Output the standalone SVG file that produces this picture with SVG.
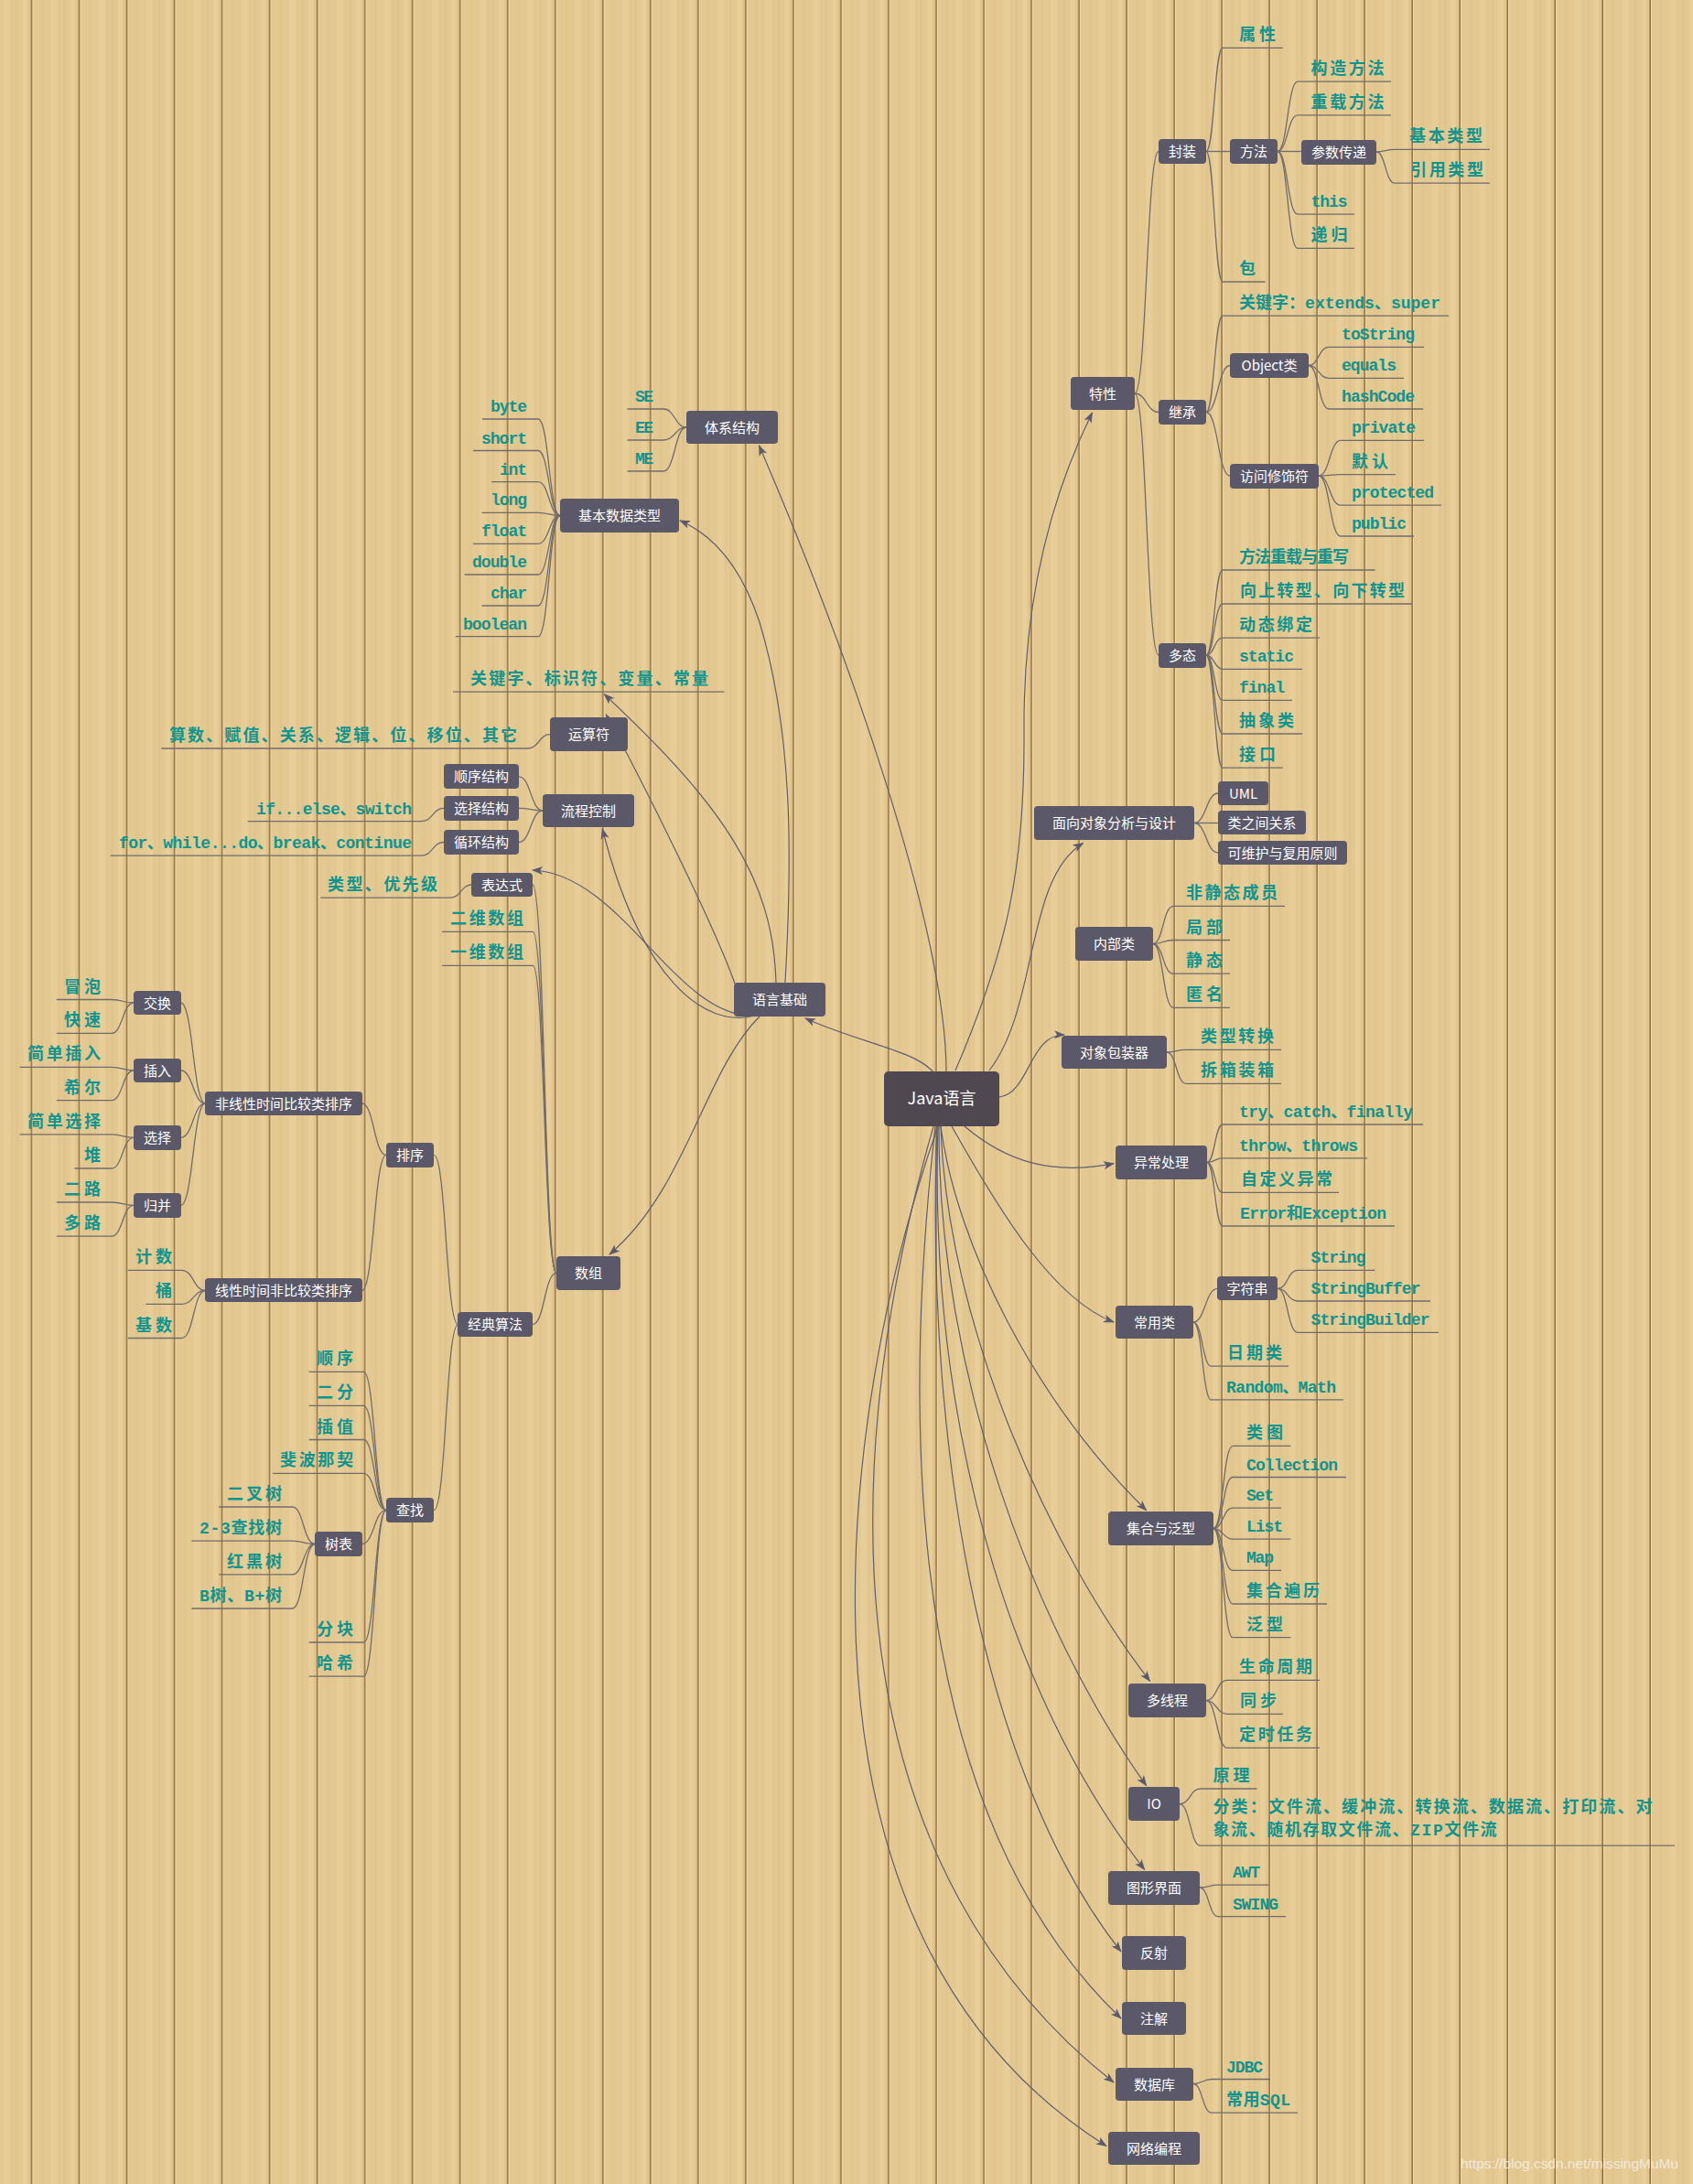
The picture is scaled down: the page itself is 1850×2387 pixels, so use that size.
<svg xmlns="http://www.w3.org/2000/svg" width="1850" height="2387" viewBox="0 0 1850 2387">
<defs>
<pattern id="wood" patternUnits="userSpaceOnUse" width="52.02" height="100">
<rect width="52.02" height="100" fill="#e4c891"/>
<rect x="4" width="7" height="100" fill="#e9d09c" opacity="0.6"/>
<rect x="12.5" width="1" height="100" fill="#d8bb83" opacity="0.5"/>
<rect x="17" width="3" height="100" fill="#dbbf88" opacity="0.6"/>
<rect x="25" width="5" height="100" fill="#ecd4a2" opacity="0.5"/>
<rect x="31" width="1" height="100" fill="#d6b980" opacity="0.5"/>
<rect x="33.8" width="1.6" height="100" fill="#8f6f3d"/>
<rect x="35.4" width="1" height="100" fill="#f2dcaa"/>
<rect x="44" width="4" height="100" fill="#dec38b" opacity="0.6"/>
</pattern>
<marker id="arr" markerUnits="userSpaceOnUse" markerWidth="12" markerHeight="10" viewBox="0 0 12 10" refX="11" refY="5" orient="auto">
<path d="M0,0.5 L12,5 L0,9.5 L3,5 Z" fill="#5b5a6c"/>
</marker>
<style>
.br{fill:none;stroke:#716c6c;stroke-width:1.3}
.rl{fill:none;stroke:#5f5e70;stroke-width:1.2;marker-end:url(#arr)}
.n rect{fill:#5a5869}
.n text{font-family:"Noto Sans CJK SC","Liberation Sans",sans-serif;font-size:15px;fill:#ffffff;text-anchor:middle}
.root rect{fill:#4f4850}
.root text{font-size:18px}
.lf{font-family:"Liberation Mono","Noto Sans CJK SC",monospace;font-size:18px;font-weight:bold;fill:#0f958f}
.le{text-anchor:end}
</style>
</defs>
<rect width="1850" height="2387" fill="url(#wood)"/>

<g id="connectors">
<g id="branches">
<path class="br" d="M1240,430 C1253,430 1253,165.5 1266,165.5"/>
<path class="br" d="M1240,430 C1253,430 1253,450.5 1266,450.5"/>
<path class="br" d="M1240,430 C1253,430 1253,716 1266,716"/>
<path class="br" d="M1318,165.5 C1327,165.5 1327,52.4 1336,52.4 H1402"/>
<path class="br" d="M1318,165.5 H1344"/>
<path class="br" d="M1318,165.5 C1327,165.5 1327,308 1336,308 H1382.5"/>
<path class="br" d="M1396,165.5 C1407,165.5 1407,89.2 1418,89.2 H1520"/>
<path class="br" d="M1396,165.5 C1407,165.5 1407,125.9 1418,125.9 H1520"/>
<path class="br" d="M1396,165.5 H1422"/>
<path class="br" d="M1396,165.5 C1407,165.5 1407,234.2 1418,234.2 H1480"/>
<path class="br" d="M1396,165.5 C1407,165.5 1407,271.3 1418,271.3 H1480"/>
<path class="br" d="M1504,166 C1514,166 1514,163.4 1524,163.4 H1628"/>
<path class="br" d="M1504,166 C1514,166 1514,200.2 1524,200.2 H1628"/>
<path class="br" d="M1318,450.5 C1327,450.5 1327,345.2 1336,345.2 H1583"/>
<path class="br" d="M1318,450.5 C1331,450.5 1331,399.5 1344,399.5"/>
<path class="br" d="M1318,450.5 C1331,450.5 1331,520 1344,520"/>
<path class="br" d="M1430,399.5 C1441,399.5 1441,379.3 1452,379.3 H1556"/>
<path class="br" d="M1430,399.5 C1441,399.5 1441,413.3 1452,413.3 H1534"/>
<path class="br" d="M1430,399.5 C1441,399.5 1441,447 1452,447 H1555"/>
<path class="br" d="M1441,520 C1453,520 1453,481.4 1465,481.4 H1556"/>
<path class="br" d="M1441,520 C1453,520 1453,518.6 1465,518.6 H1525"/>
<path class="br" d="M1441,520 C1453,520 1453,552.2 1465,552.2 H1575"/>
<path class="br" d="M1441,520 C1453,520 1453,586 1465,586 H1545"/>
<path class="br" d="M1318,716 C1327,716 1327,623 1336,623 H1502.5"/>
<path class="br" d="M1318,716 C1327,716 1327,660 1336,660 H1543"/>
<path class="br" d="M1318,716 C1327,716 1327,697.2 1336,697.2 H1442"/>
<path class="br" d="M1318,716 C1327,716 1327,731.3 1336,731.3 H1423"/>
<path class="br" d="M1318,716 C1327,716 1327,765.3 1336,765.3 H1412"/>
<path class="br" d="M1318,716 C1327,716 1327,802 1336,802 H1423"/>
<path class="br" d="M1318,716 C1327,716 1327,839.2 1336,839.2 H1402"/>
<path class="br" d="M1305,899.5 C1318,899.5 1318,867 1331,867"/>
<path class="br" d="M1305,899.5 H1331"/>
<path class="br" d="M1305,899.5 C1318,899.5 1318,932 1331,932"/>
<path class="br" d="M1260,1031.5 C1271,1031.5 1271,990.4 1282,990.4 H1404"/>
<path class="br" d="M1260,1031.5 C1271,1031.5 1271,1027.5 1282,1027.5 H1344"/>
<path class="br" d="M1260,1031.5 C1271,1031.5 1271,1064.2 1282,1064.2 H1344"/>
<path class="br" d="M1260,1031.5 C1271,1031.5 1271,1101.3 1282,1101.3 H1344"/>
<path class="br" d="M1275,1150 C1285.5,1150 1285.5,1147.3 1296,1147.3 H1400"/>
<path class="br" d="M1275,1150 C1285.5,1150 1285.5,1184.4 1296,1184.4 H1400"/>
<path class="br" d="M1319,1270.5 C1327.5,1270.5 1327.5,1229 1336,1229 H1555"/>
<path class="br" d="M1319,1270.5 C1327.5,1270.5 1327.5,1265.8 1336,1265.8 H1494"/>
<path class="br" d="M1319,1270.5 C1327.5,1270.5 1327.5,1303.3 1336,1303.3 H1463"/>
<path class="br" d="M1319,1270.5 C1327.5,1270.5 1327.5,1340 1336,1340 H1524"/>
<path class="br" d="M1304,1445 C1317,1445 1317,1408.4 1330.6,1408.4"/>
<path class="br" d="M1304,1445 C1314,1445 1314,1493.2 1323.5,1493.2 H1408"/>
<path class="br" d="M1304,1445 C1314,1445 1314,1529.9 1323.5,1529.9 H1468"/>
<path class="br" d="M1396.3,1408.4 C1407,1408.4 1407,1388.3 1418,1388.3 H1502.5"/>
<path class="br" d="M1396.3,1408.4 C1407,1408.4 1407,1422 1418,1422 H1563"/>
<path class="br" d="M1396.3,1408.4 C1407,1408.4 1407,1456.4 1418,1456.4 H1572"/>
<path class="br" d="M1326,1670.5 C1336.5,1670.5 1336.5,1580.4 1347,1580.4 H1410.5"/>
<path class="br" d="M1326,1670.5 C1336.5,1670.5 1336.5,1614.5 1347,1614.5 H1471"/>
<path class="br" d="M1326,1670.5 C1336.5,1670.5 1336.5,1648.1 1347,1648.1 H1400"/>
<path class="br" d="M1326,1670.5 C1336.5,1670.5 1336.5,1682.2 1347,1682.2 H1410.5"/>
<path class="br" d="M1326,1670.5 C1336.5,1670.5 1336.5,1716.3 1347,1716.3 H1400"/>
<path class="br" d="M1326,1670.5 C1336.5,1670.5 1336.5,1753 1347,1753 H1450"/>
<path class="br" d="M1326,1670.5 C1336.5,1670.5 1336.5,1789.7 1347,1789.7 H1410.5"/>
<path class="br" d="M1318,1858.6 C1329.5,1858.6 1329.5,1836.3 1341,1836.3 H1442"/>
<path class="br" d="M1318,1858.6 C1329.5,1858.6 1329.5,1873.4 1341,1873.4 H1402"/>
<path class="br" d="M1318,1858.6 C1329.5,1858.6 1329.5,1910.4 1341,1910.4 H1442"/>
<path class="br" d="M1289,1971.7 C1300.5,1971.7 1300.5,1955 1311.7,1955 H1373.5"/>
<path class="br" d="M1289,1971.7 C1300.5,1971.7 1300.5,2017.2 1311.7,2017.2 H1830"/>
<path class="br" d="M1311,2063 C1321,2063 1321,2060.2 1331,2060.2 H1386"/>
<path class="br" d="M1311,2063 C1321,2063 1321,2094.7 1331,2094.7 H1405"/>
<path class="br" d="M1304,2277.5 C1314,2277.5 1314,2272.5 1324,2272.5 H1388"/>
<path class="br" d="M1304,2277.5 C1314,2277.5 1314,2309.2 1324,2309.2 H1418"/>
<path class="br" d="M750,467 C737.5,467 737.5,447 725,447 H685.5"/>
<path class="br" d="M750,467 C737.5,467 737.5,481 725,481 H685.5"/>
<path class="br" d="M750,467 C737.5,467 737.5,515 725,515 H685.5"/>
<path class="br" d="M612,563.5 C600,563.5 600,458 588,458 H527"/>
<path class="br" d="M612,563.5 C600,563.5 600,492.5 588,492.5 H517"/>
<path class="br" d="M612,563.5 C600,563.5 600,526.6 588,526.6 H537"/>
<path class="br" d="M612,563.5 C600,563.5 600,560.3 588,560.3 H526.5"/>
<path class="br" d="M612,563.5 C600,563.5 600,594.3 588,594.3 H517"/>
<path class="br" d="M612,563.5 C600,563.5 600,628 588,628 H507.6"/>
<path class="br" d="M612,563.5 C600,563.5 600,662 588,662 H526.5"/>
<path class="br" d="M612,563.5 C600,563.5 600,695.7 588,695.7 H497.8"/>
<path class="br" d="M495,756.1 H791.3"/>
<path class="br" d="M601,802.7 C589,802.7 589,818 576.5,818 H176.3"/>
<path class="br" d="M593,886 C580,886 580,848.8 567,848.8"/>
<path class="br" d="M593,886 C580,886 580,883.4 567,883.4"/>
<path class="br" d="M593,886 C580,886 580,920.5 567,920.5"/>
<path class="br" d="M485,883.4 C472.7,883.4 472.7,897.7 460.4,897.7 H270.7"/>
<path class="br" d="M485,920.5 C472.7,920.5 472.7,935.2 460.4,935.2 H120.8"/>
<path class="br" d="M515.5,967 C503.7,967 503.7,981.2 491.9,981.2 H350.2"/>
<path class="br" d="M608,1391.4 C595,1391.4 595,967 582,967"/>
<path class="br" d="M608,1391.4 C595,1391.4 595,1018.3 582.4,1018.3 H483.2"/>
<path class="br" d="M608,1391.4 C595,1391.4 595,1055.4 582.4,1055.4 H483.2"/>
<path class="br" d="M608,1391.4 C595,1391.4 595,1447.6 582,1447.6"/>
<path class="br" d="M500.5,1447.6 C487.4,1447.6 487.4,1262.4 474.2,1262.4"/>
<path class="br" d="M500.5,1447.6 C487.4,1447.6 487.4,1650.6 474.2,1650.6"/>
<path class="br" d="M422,1262.4 C408.7,1262.4 408.7,1206 395.5,1206"/>
<path class="br" d="M422,1262.4 C408.7,1262.4 408.7,1410.5 395.5,1410.5"/>
<path class="br" d="M224.3,1206 C211,1206 211,1096 197.5,1096"/>
<path class="br" d="M224.3,1206 C211,1206 211,1170 197.5,1170"/>
<path class="br" d="M224.3,1206 C211,1206 211,1243.3 197.5,1243.3"/>
<path class="br" d="M224.3,1206 C211,1206 211,1317.3 197.5,1317.3"/>
<path class="br" d="M146,1096 C134,1096 134,1092.5 122,1092.5 H61.8"/>
<path class="br" d="M146,1096 C134,1096 134,1129.3 122,1129.3 H61.8"/>
<path class="br" d="M146,1170 C134,1170 134,1166.4 122,1166.4 H21.6"/>
<path class="br" d="M146,1170 C134,1170 134,1202.7 122,1202.7 H61.8"/>
<path class="br" d="M146,1243.3 C134,1243.3 134,1239.8 122,1239.8 H21.6"/>
<path class="br" d="M146,1243.3 C134,1243.3 134,1277 122,1277 H81.5"/>
<path class="br" d="M146,1317.3 C134,1317.3 134,1314 122,1314 H61.8"/>
<path class="br" d="M146,1317.3 C134,1317.3 134,1351.2 122,1351.2 H61.8"/>
<path class="br" d="M224.3,1410.5 C211.5,1410.5 211.5,1388.3 198.7,1388.3 H139.7"/>
<path class="br" d="M224.3,1410.5 C211.5,1410.5 211.5,1425.4 198.7,1425.4 H159.4"/>
<path class="br" d="M224.3,1410.5 C211.5,1410.5 211.5,1462.5 198.7,1462.5 H139.7"/>
<path class="br" d="M422,1650.6 C409.7,1650.6 409.7,1499.3 397.4,1499.3 H337.6"/>
<path class="br" d="M422,1650.6 C409.7,1650.6 409.7,1536.4 397.4,1536.4 H337.6"/>
<path class="br" d="M422,1650.6 C409.7,1650.6 409.7,1573.5 397.4,1573.5 H337.6"/>
<path class="br" d="M422,1650.6 C409.7,1650.6 409.7,1610.3 397.4,1610.3 H297.9"/>
<path class="br" d="M422,1650.6 C408.7,1650.6 408.7,1687.5 395.5,1687.5"/>
<path class="br" d="M422,1650.6 C409.7,1650.6 409.7,1795 397.4,1795 H337.6"/>
<path class="br" d="M422,1650.6 C409.7,1650.6 409.7,1832.2 397.4,1832.2 H337.6"/>
<path class="br" d="M344,1687.5 C331.7,1687.5 331.7,1647 319.5,1647 H239.2"/>
<path class="br" d="M344,1687.5 C331.7,1687.5 331.7,1684.1 319.5,1684.1 H209.3"/>
<path class="br" d="M344,1687.5 C331.7,1687.5 331.7,1720.9 319.5,1720.9 H239.2"/>
<path class="br" d="M344,1687.5 C331.7,1687.5 331.7,1758 319.5,1758 H209.3"/>
</g>
<g id="relations">
<path class="rl" d="M1020,1172 C1000,1148 940,1140 880,1113"/>
<path class="rl" d="M1034,1172 C1034,1020 930,720 829.5,487"/>
<path class="rl" d="M1044,1170 C1100,1040 1120,950 1119,800 C1118,680 1140,560 1193.5,451"/>
<path class="rl" d="M1081,1170 C1135,1100 1120,960 1183.6,921.5"/>
<path class="rl" d="M1092,1199 C1125,1195 1125,1130 1163,1131"/>
<path class="rl" d="M1054,1231 C1100,1270 1150,1285 1217,1271.6"/>
<path class="rl" d="M1040,1231 C1090,1320 1150,1420 1217,1445"/>
<path class="rl" d="M1028,1231 C1045,1360 1130,1530 1252.7,1650.8"/>
<path class="rl" d="M1028,1231 C1035,1450 1150,1700 1256.6,1837.4"/>
<path class="rl" d="M1026,1231 C1025,1500 1130,1780 1252.7,1951.6"/>
<path class="rl" d="M1025,1231 C1015,1550 1100,1850 1250.7,2043.4"/>
<path class="rl" d="M1024,1231 C1010,1600 1080,1950 1225,2133"/>
<path class="rl" d="M1022,1231 C975,1650 1020,2010 1225,2206"/>
<path class="rl" d="M1020,1231 C900,1650 930,2050 1217,2276"/>
<path class="rl" d="M1025,1231 C930,1500 820,2100 1209,2345.5"/>
<path class="rl" d="M858,1074 C866,930 866,800 830,680 C810,620 780,585 743,569"/>
<path class="rl" d="M848,1074 C845,960 790,880 660.3,758.8"/>
<path class="rl" d="M803,1075 C780,1010 700,850 662.3,781"/>
<path class="rl" d="M825,1110 C770,1125 700,1070 658.3,906"/>
<path class="rl" d="M825,1110 C740,1115 680,955 582,951"/>
<path class="rl" d="M830,1111 C770,1170 750,1300 666,1371"/>
</g>
</g>

<g id="n-java" class="n root"><rect x="966" y="1171" width="126" height="60" rx="5"/><text x="1029" y="1207">Java语言</text></g>
<g id="n-yuyanjichu" class="n"><rect x="802" y="1074" width="100" height="37" rx="4"/><text x="852" y="1098">语言基础</text></g>
<g id="n-tixijiegou" class="n"><rect x="750" y="449" width="100" height="36" rx="4"/><text x="800" y="472.5">体系结构</text></g>
<g id="n-jibenshujuleixing" class="n"><rect x="612" y="545" width="130" height="37" rx="4"/><text x="677" y="569">基本数据类型</text></g>
<g id="n-yunsuanfu" class="n"><rect x="601" y="784" width="85" height="37" rx="4"/><text x="643.5" y="808">运算符</text></g>
<g id="n-liuchengkongzhi" class="n"><rect x="593" y="868" width="100" height="36" rx="4"/><text x="643" y="891.5">流程控制</text></g>
<g id="n-shunxujiegou" class="n"><rect x="485" y="835" width="82" height="27" rx="4"/><text x="526" y="854">顺序结构</text></g>
<g id="n-xuanzejiegou" class="n"><rect x="485" y="870" width="82" height="27" rx="4"/><text x="526" y="889">选择结构</text></g>
<g id="n-xunhuanjiegou" class="n"><rect x="485" y="907" width="82" height="27" rx="4"/><text x="526" y="926">循环结构</text></g>
<g id="n-biaodashi" class="n"><rect x="515" y="954" width="67" height="26" rx="4"/><text x="548.5" y="972.5">表达式</text></g>
<g id="n-shuzu" class="n"><rect x="608" y="1373" width="70" height="37" rx="4"/><text x="643" y="1397">数组</text></g>
<g id="n-jingdiansuanfa" class="n"><rect x="500" y="1434" width="82" height="27" rx="4"/><text x="541" y="1453">经典算法</text></g>
<g id="n-paixu" class="n"><rect x="422" y="1249" width="52" height="27" rx="4"/><text x="448" y="1268">排序</text></g>
<g id="n-chazhao" class="n"><rect x="422" y="1637" width="52" height="27" rx="4"/><text x="448" y="1656">查找</text></g>
<g id="n-feixianxing" class="n"><rect x="224" y="1193" width="172" height="26" rx="4"/><text x="310" y="1211.5">非线性时间比较类排序</text></g>
<g id="n-xianxing" class="n"><rect x="224" y="1397" width="172" height="26" rx="4"/><text x="310" y="1415.5">线性时间非比较类排序</text></g>
<g id="n-jiaohuan" class="n"><rect x="146" y="1083" width="52" height="26" rx="4"/><text x="172" y="1101.5">交换</text></g>
<g id="n-charu" class="n"><rect x="146" y="1157" width="52" height="26" rx="4"/><text x="172" y="1175.5">插入</text></g>
<g id="n-xuanze" class="n"><rect x="146" y="1230" width="52" height="27" rx="4"/><text x="172" y="1249">选择</text></g>
<g id="n-guibing" class="n"><rect x="146" y="1304" width="52" height="27" rx="4"/><text x="172" y="1323">归并</text></g>
<g id="n-shubiao" class="n"><rect x="344" y="1674" width="52" height="27" rx="4"/><text x="370" y="1693">树表</text></g>
<g id="n-texing" class="n"><rect x="1170" y="412" width="70" height="36" rx="4"/><text x="1205" y="435.5">特性</text></g>
<g id="n-fengzhuang" class="n"><rect x="1266" y="152" width="52" height="27" rx="4"/><text x="1292" y="171">封装</text></g>
<g id="n-fangfa" class="n"><rect x="1344" y="152" width="52" height="27" rx="4"/><text x="1370" y="171">方法</text></g>
<g id="n-canshuchuandi" class="n"><rect x="1422" y="153" width="82" height="27" rx="4"/><text x="1463" y="172">参数传递</text></g>
<g id="n-jicheng" class="n"><rect x="1266" y="437" width="52" height="27" rx="4"/><text x="1292" y="456">继承</text></g>
<g id="n-object" class="n"><rect x="1344" y="386" width="86" height="27" rx="4"/><text x="1387" y="405">Object类</text></g>
<g id="n-fangwenxiushifu" class="n"><rect x="1344" y="507" width="97" height="27" rx="4"/><text x="1392.5" y="526">访问修饰符</text></g>
<g id="n-duotai" class="n"><rect x="1266" y="703" width="52" height="27" rx="4"/><text x="1292" y="722">多态</text></g>
<g id="n-mianxiangduixiang" class="n"><rect x="1130" y="881" width="175" height="37" rx="4"/><text x="1217.5" y="905">面向对象分析与设计</text></g>
<g id="n-uml" class="n"><rect x="1331" y="854" width="55" height="26" rx="4"/><text x="1358.5" y="872.5">UML</text></g>
<g id="n-leizhijian" class="n"><rect x="1331" y="886" width="96" height="26" rx="4"/><text x="1379" y="904.5">类之间关系</text></g>
<g id="n-keweihu" class="n"><rect x="1331" y="919" width="141" height="26" rx="4"/><text x="1401.5" y="937.5">可维护与复用原则</text></g>
<g id="n-neibulei" class="n"><rect x="1175" y="1013" width="85" height="37" rx="4"/><text x="1217.5" y="1037">内部类</text></g>
<g id="n-baozhuangqi" class="n"><rect x="1160" y="1132" width="115" height="36" rx="4"/><text x="1217.5" y="1155.5">对象包装器</text></g>
<g id="n-yichangchuli" class="n"><rect x="1219" y="1252" width="100" height="37" rx="4"/><text x="1269" y="1276">异常处理</text></g>
<g id="n-changyonglei" class="n"><rect x="1219" y="1427" width="85" height="36" rx="4"/><text x="1261.5" y="1450.5">常用类</text></g>
<g id="n-zifuchuan" class="n"><rect x="1330" y="1395" width="66" height="26" rx="4"/><text x="1363" y="1413.5">字符串</text></g>
<g id="n-jihe" class="n"><rect x="1211" y="1652" width="115" height="37" rx="4"/><text x="1268.5" y="1676">集合与泛型</text></g>
<g id="n-duoxiancheng" class="n"><rect x="1233" y="1840" width="85" height="37" rx="4"/><text x="1275.5" y="1864">多线程</text></g>
<g id="n-io" class="n"><rect x="1233" y="1953" width="56" height="37" rx="4"/><text x="1261" y="1977">IO</text></g>
<g id="n-tuxingjiemian" class="n"><rect x="1211" y="2045" width="100" height="37" rx="4"/><text x="1261" y="2069">图形界面</text></g>
<g id="n-fanshe" class="n"><rect x="1226" y="2116" width="70" height="37" rx="4"/><text x="1261" y="2140">反射</text></g>
<g id="n-zhujie" class="n"><rect x="1226" y="2188" width="70" height="36" rx="4"/><text x="1261" y="2211.5">注解</text></g>
<g id="n-shujuku" class="n"><rect x="1219" y="2260" width="85" height="36" rx="4"/><text x="1261.5" y="2283.5">数据库</text></g>
<g id="n-wangluobiancheng" class="n"><rect x="1211" y="2330" width="100" height="36" rx="4"/><text x="1261" y="2353.5">网络编程</text></g>

<g id="leaves">
<text class="lf" x="1354" y="44.4" textLength="40" lengthAdjust="spacing">属性</text>
<text class="lf" x="1432.5" y="81.2" textLength="80" lengthAdjust="spacing">构造方法</text>
<text class="lf" x="1432.5" y="117.9" textLength="80" lengthAdjust="spacing">重载方法</text>
<text class="lf" x="1540" y="155.4" textLength="80" lengthAdjust="spacing">基本类型</text>
<text class="lf" x="1541" y="192.2" textLength="80" lengthAdjust="spacing">引用类型</text>
<text class="lf" x="1432.5" y="226.2" textLength="40" lengthAdjust="spacing">this</text>
<text class="lf" x="1432.5" y="263.3" textLength="40" lengthAdjust="spacing">递归</text>
<text class="lf" x="1354" y="300" textLength="20" lengthAdjust="spacing">包</text>
<text class="lf" x="1354" y="337.2" textLength="220" lengthAdjust="spacing">关键字：extends、super</text>
<text class="lf" x="1466" y="371.3" textLength="80" lengthAdjust="spacing">toString</text>
<text class="lf" x="1466" y="405.3" textLength="60" lengthAdjust="spacing">equals</text>
<text class="lf" x="1466" y="439" textLength="80" lengthAdjust="spacing">hashCode</text>
<text class="lf" x="1477" y="473.4" textLength="70" lengthAdjust="spacing">private</text>
<text class="lf" x="1477" y="510.6" textLength="40" lengthAdjust="spacing">默认</text>
<text class="lf" x="1477" y="544.2" textLength="90" lengthAdjust="spacing">protected</text>
<text class="lf" x="1477" y="578" textLength="60" lengthAdjust="spacing">public</text>
<text class="lf" x="1354" y="615" textLength="120" lengthAdjust="spacing">方法重载与重写</text>
<text class="lf" x="1355" y="652" textLength="180" lengthAdjust="spacing">向上转型、向下转型</text>
<text class="lf" x="1354" y="689.2" textLength="80" lengthAdjust="spacing">动态绑定</text>
<text class="lf" x="1354" y="723.3" textLength="60" lengthAdjust="spacing">static</text>
<text class="lf" x="1354" y="757.3" textLength="50" lengthAdjust="spacing">final</text>
<text class="lf" x="1354" y="794" textLength="60" lengthAdjust="spacing">抽象类</text>
<text class="lf" x="1354" y="831.2" textLength="40" lengthAdjust="spacing">接口</text>
<text class="lf" x="1296" y="982.4" textLength="100" lengthAdjust="spacing">非静态成员</text>
<text class="lf" x="1296" y="1019.5" textLength="40" lengthAdjust="spacing">局部</text>
<text class="lf" x="1296" y="1056.2" textLength="40" lengthAdjust="spacing">静态</text>
<text class="lf" x="1296" y="1093.3" textLength="40" lengthAdjust="spacing">匿名</text>
<text class="lf" x="1312" y="1139.3" textLength="80" lengthAdjust="spacing">类型转换</text>
<text class="lf" x="1312" y="1176.4" textLength="80" lengthAdjust="spacing">拆箱装箱</text>
<text class="lf" x="1354" y="1221" textLength="190" lengthAdjust="spacing">try、catch、finally</text>
<text class="lf" x="1354" y="1257.8" textLength="130" lengthAdjust="spacing">throw、throws</text>
<text class="lf" x="1356" y="1295.3" textLength="100" lengthAdjust="spacing">自定义异常</text>
<text class="lf" x="1355" y="1332" textLength="160" lengthAdjust="spacing">Error和Exception</text>
<text class="lf" x="1432.5" y="1380.3" textLength="60" lengthAdjust="spacing">String</text>
<text class="lf" x="1432.5" y="1414" textLength="120" lengthAdjust="spacing">StringBuffer</text>
<text class="lf" x="1432.5" y="1448.4" textLength="130" lengthAdjust="spacing">StringBuilder</text>
<text class="lf" x="1341" y="1485.2" textLength="60" lengthAdjust="spacing">日期类</text>
<text class="lf" x="1340" y="1521.9" textLength="120" lengthAdjust="spacing">Random、Math</text>
<text class="lf" x="1362" y="1572.4" textLength="40" lengthAdjust="spacing">类图</text>
<text class="lf" x="1362" y="1606.5" textLength="100" lengthAdjust="spacing">Collection</text>
<text class="lf" x="1362" y="1640.1" textLength="30" lengthAdjust="spacing">Set</text>
<text class="lf" x="1362" y="1674.2" textLength="40" lengthAdjust="spacing">List</text>
<text class="lf" x="1362" y="1708.3" textLength="30" lengthAdjust="spacing">Map</text>
<text class="lf" x="1362" y="1745" textLength="80" lengthAdjust="spacing">集合遍历</text>
<text class="lf" x="1362" y="1781.7" textLength="40" lengthAdjust="spacing">泛型</text>
<text class="lf" x="1354" y="1828.3" textLength="80" lengthAdjust="spacing">生命周期</text>
<text class="lf" x="1355" y="1865.4" textLength="40" lengthAdjust="spacing">同步</text>
<text class="lf" x="1354" y="1902.4" textLength="80" lengthAdjust="spacing">定时任务</text>
<text class="lf" x="1325.5" y="1947" textLength="40" lengthAdjust="spacing">原理</text>
<text class="lf" x="1325.5" y="1981" textLength="480" lengthAdjust="spacing">分类：文件流、缓冲流、转换流、数据流、打印流、对</text>
<text class="lf" x="1325.5" y="2006" textLength="310" lengthAdjust="spacing">象流、随机存取文件流、ZIP文件流</text>
<text class="lf" x="1347" y="2052.2" textLength="30" lengthAdjust="spacing">AWT</text>
<text class="lf" x="1347" y="2086.7" textLength="50" lengthAdjust="spacing">SWING</text>
<text class="lf" x="1340" y="2264.5" textLength="40" lengthAdjust="spacing">JDBC</text>
<text class="lf" x="1340" y="2301.2" textLength="70" lengthAdjust="spacing">常用SQL</text>

<text class="lf le" x="714" y="439" textLength="20" lengthAdjust="spacing">SE</text>
<text class="lf le" x="714" y="473" textLength="20" lengthAdjust="spacing">EE</text>
<text class="lf le" x="714" y="507" textLength="20" lengthAdjust="spacing">ME</text>
<text class="lf le" x="576" y="450" textLength="40" lengthAdjust="spacing">byte</text>
<text class="lf le" x="576" y="484.5" textLength="50" lengthAdjust="spacing">short</text>
<text class="lf le" x="576" y="518.6" textLength="30" lengthAdjust="spacing">int</text>
<text class="lf le" x="576" y="552.3" textLength="40" lengthAdjust="spacing">long</text>
<text class="lf le" x="576" y="586.3" textLength="50" lengthAdjust="spacing">float</text>
<text class="lf le" x="576" y="620" textLength="60" lengthAdjust="spacing">double</text>
<text class="lf le" x="576" y="654" textLength="40" lengthAdjust="spacing">char</text>
<text class="lf le" x="576" y="687.7" textLength="70" lengthAdjust="spacing">boolean</text>
<text class="lf" x="514" y="748" textLength="260" lengthAdjust="spacing">关键字、标识符、变量、常量</text>
<text class="lf le" x="565" y="810" textLength="380" lengthAdjust="spacing">算数、赋值、关系、逻辑、位、移位、其它</text>
<text class="lf le" x="450" y="889.7" textLength="170" lengthAdjust="spacing">if...else、switch</text>
<text class="lf le" x="450" y="927.2" textLength="320" lengthAdjust="spacing">for、while...do、break、continue</text>
<text class="lf le" x="478" y="973.2" textLength="120" lengthAdjust="spacing">类型、优先级</text>
<text class="lf le" x="572" y="1010.3" textLength="80" lengthAdjust="spacing">二维数组</text>
<text class="lf le" x="572" y="1047.4" textLength="80" lengthAdjust="spacing">一维数组</text>
<text class="lf le" x="110" y="1084.5" textLength="40" lengthAdjust="spacing">冒泡</text>
<text class="lf le" x="110" y="1121.3" textLength="40" lengthAdjust="spacing">快速</text>
<text class="lf le" x="110" y="1158.4" textLength="80" lengthAdjust="spacing">简单插入</text>
<text class="lf le" x="110" y="1194.7" textLength="40" lengthAdjust="spacing">希尔</text>
<text class="lf le" x="110" y="1231.8" textLength="80" lengthAdjust="spacing">简单选择</text>
<text class="lf le" x="110" y="1269" textLength="20" lengthAdjust="spacing">堆</text>
<text class="lf le" x="110" y="1306" textLength="40" lengthAdjust="spacing">二路</text>
<text class="lf le" x="110" y="1343.2" textLength="40" lengthAdjust="spacing">多路</text>
<text class="lf le" x="188" y="1380.3" textLength="40" lengthAdjust="spacing">计数</text>
<text class="lf le" x="188" y="1417.4" textLength="20" lengthAdjust="spacing">桶</text>
<text class="lf le" x="188" y="1454.5" textLength="40" lengthAdjust="spacing">基数</text>
<text class="lf le" x="386" y="1491.3" textLength="40" lengthAdjust="spacing">顺序</text>
<text class="lf le" x="386" y="1528.4" textLength="40" lengthAdjust="spacing">二分</text>
<text class="lf le" x="386" y="1565.5" textLength="40" lengthAdjust="spacing">插值</text>
<text class="lf le" x="386" y="1602.3" textLength="80" lengthAdjust="spacing">斐波那契</text>
<text class="lf le" x="386" y="1787" textLength="40" lengthAdjust="spacing">分块</text>
<text class="lf le" x="386" y="1824.2" textLength="40" lengthAdjust="spacing">哈希</text>
<text class="lf le" x="308" y="1639" textLength="60" lengthAdjust="spacing">二叉树</text>
<text class="lf le" x="308" y="1676.1" textLength="90" lengthAdjust="spacing">2-3查找树</text>
<text class="lf le" x="308" y="1712.9" textLength="60" lengthAdjust="spacing">红黑树</text>
<text class="lf le" x="308" y="1750" textLength="90" lengthAdjust="spacing">B树、B+树</text>
</g>

<text x="1596" y="2370" textLength="238" lengthAdjust="spacingAndGlyphs" font-family="Liberation Sans, sans-serif" font-size="15" fill="#f6f1e8" fill-opacity="0.85">https://blog.csdn.net/missingMuMu</text>
</svg>
